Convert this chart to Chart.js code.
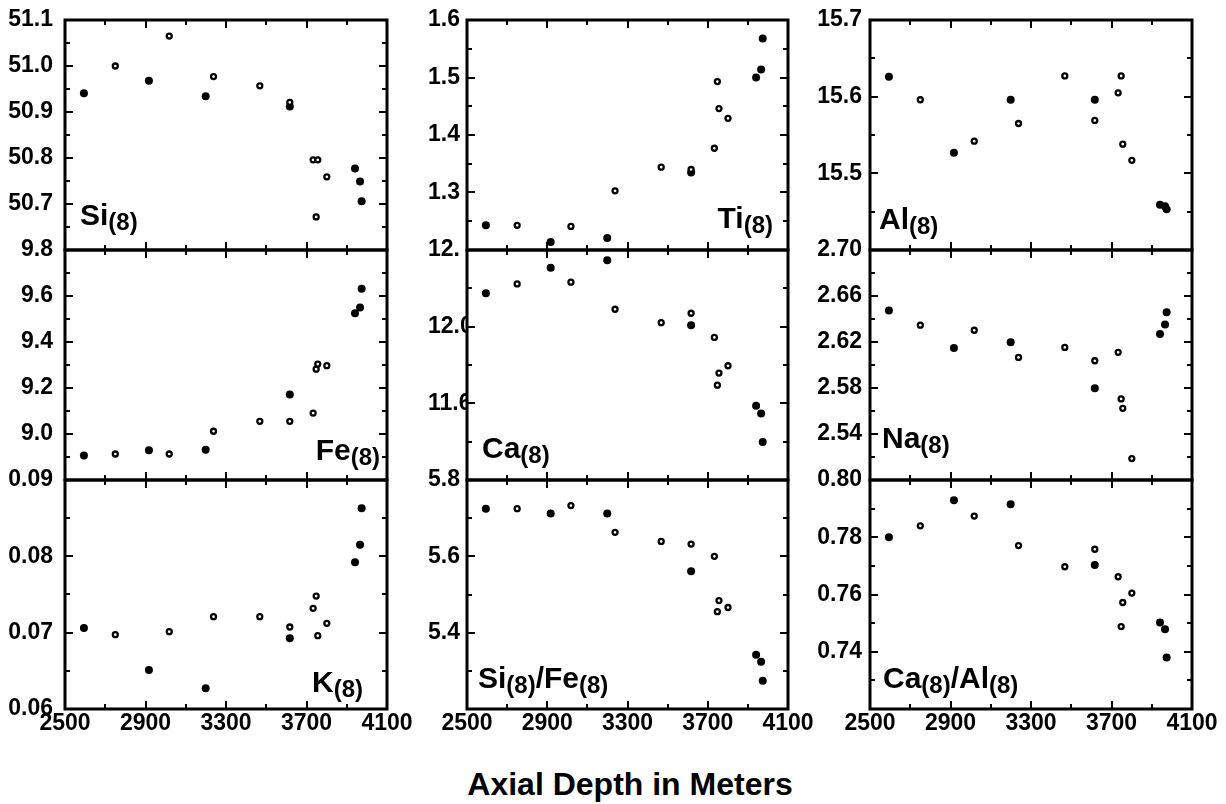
<!DOCTYPE html>
<html><head><meta charset="utf-8">
<script src="https://cdn.jsdelivr.net/npm/chart.js@4.4.1/dist/chart.umd.min.js"></script>
<style>
html,body{margin:0;padding:0;background:#fff;}
body{width:1226px;height:804px;position:relative;overflow:hidden;}
canvas.panel{position:absolute;}
#xtitle{position:absolute;left:0;width:1260px;text-align:center;top:768px;font:bold 32px 'Liberation Sans',Arial,sans-serif;line-height:32px;color:#000;}
</style></head><body>
<div id="xtitle">Axial Depth in Meters</div>
<script>
// ---- data ----
const depthFilled = [2594, 2917, 3199, 3617, 3941, 3966, 3974];
const depthOpen   = [2750, 3018, 3238, 3468, 3617, 3733, 3748, 3756, 3801];
const xTicks      = [2500, 2900, 3300, 3700, 4100];
const xTickLabels = ['2500', '2900', '3300', '3700', '4100'];

const siFilled = [50.941, 50.968, 50.934, 50.912, 50.777, 50.749, 50.706];
const siOpen   = [51.000, 51.065, 50.977, 50.957, 50.921, 50.796, 50.672, 50.796, 50.759];
const siTicks  = [50.6, 50.7, 50.8, 50.9, 51.0, 51.1];
const siLabels = ['', '50.7', '50.8', '50.9', '51.0', '51.1'];

const tiFilled = [1.243, 1.214, 1.221, 1.335, 1.500, 1.514, 1.568];
const tiOpen   = [1.243, 1.241, 1.303, 1.344, 1.340, 1.377, 1.493, 1.446, 1.429];
const tiTicks  = [1.2, 1.3, 1.4, 1.5, 1.6];
const tiLabels = ['', '1.3', '1.4', '1.5', '1.6'];

const alFilled = [15.626, 15.527, 15.596, 15.596, 15.459, 15.457, 15.453];
const alOpen   = [15.596, 15.542, 15.565, 15.627, 15.569, 15.605, 15.627, 15.538, 15.517];
const alTicks  = [15.4, 15.5, 15.6, 15.7];
const alLabels = ['', '15.5', '15.6', '15.7'];

const feFilled = [8.906, 8.929, 8.931, 9.172, 9.525, 9.550, 9.632];
const feOpen   = [8.913, 8.913, 9.012, 9.055, 9.055, 9.091, 9.282, 9.304, 9.297];
const feTicks  = [8.8, 9.0, 9.2, 9.4, 9.6, 9.8];
const feLabels = ['', '9.0', '9.2', '9.4', '9.6', '9.8'];

const caFilled = [12.174, 12.307, 12.346, 12.007, 11.588, 11.547, 11.398];
const caOpen   = [12.223, 12.232, 12.091, 12.021, 12.070, 11.944, 11.695, 11.758, 11.796];
const caTicks  = [11.2, 11.6, 12.0, 12.4];
const caLabels = ['', '11.6', '12.0', '12.'];

const naFilled = [2.6474, 2.6148, 2.6197, 2.5798, 2.6270, 2.6352, 2.6459];
const naOpen   = [2.6346, 2.6302, 2.6066, 2.6153, 2.6037, 2.6110, 2.5705, 2.5623, 2.5186];
const naTicks  = [2.50, 2.54, 2.58, 2.62, 2.66, 2.70];
const naLabels = ['', '2.54', '2.58', '2.62', '2.66', '2.70'];

const kFilled  = [0.07061, 0.06511, 0.06271, 0.06926, 0.07921, 0.08153, 0.08629];
const kOpen    = [0.06974, 0.07013, 0.07210, 0.07210, 0.07074, 0.07319, 0.07480, 0.06961, 0.07122];
const kTicks   = [0.06, 0.07, 0.08, 0.09];
const kLabels  = ['0.06', '0.07', '0.08', '0.09'];

const sifeFilled = [5.725, 5.712, 5.712, 5.561, 5.342, 5.324, 5.274];
const sifeOpen   = [5.725, 5.733, 5.663, 5.639, 5.632, 5.600, 5.455, 5.484, 5.466];
const sifeTicks  = [5.2, 5.4, 5.6, 5.8];
const sifeLabels = ['', '5.4', '5.6', '5.8'];

const caalFilled = [0.7800, 0.7929, 0.7915, 0.7703, 0.7502, 0.7479, 0.7380];
const caalOpen   = [0.7840, 0.7874, 0.7771, 0.7697, 0.7758, 0.7662, 0.7488, 0.7572, 0.7605];
const caalTicks  = [0.72, 0.74, 0.76, 0.78, 0.80];
const caalLabels = ['', '0.74', '0.76', '0.78', '0.80'];

// ---- panels ----
const panels = [
  {r:0,c:0, f:siFilled, o:siOpen, t:siTicks, l:siLabels, name:[['Si',0],['(8)',1]], anchor:'left', dx:15, dy:25},
  {r:0,c:1, f:tiFilled, o:tiOpen, t:tiTicks, l:tiLabels, name:[['Ti',0],['(8)',1]], anchor:'right', dx:15, dy:22},
  {r:0,c:2, f:alFilled, o:alOpen, t:alTicks, l:alLabels, name:[['Al',0],['(8)',1]], anchor:'left', dx:9, dy:21},
  {r:1,c:0, f:feFilled, o:feOpen, t:feTicks, l:feLabels, name:[['Fe',0],['(8)',1]], anchor:'right', dx:7, dy:20},
  {r:1,c:1, f:caFilled, o:caOpen, t:caTicks, l:caLabels, name:[['Ca',0],['(8)',1]], anchor:'left', dx:15, dy:22},
  {r:1,c:2, f:naFilled, o:naOpen, t:naTicks, l:naLabels, name:[['Na',0],['(8)',1]], anchor:'left', dx:12, dy:32},
  {r:2,c:0, f:kFilled, o:kOpen, t:kTicks, l:kLabels, name:[['K',0],['(8)',1]], anchor:'right', dx:24, dy:17},
  {r:2,c:1, f:sifeFilled, o:sifeOpen, t:sifeTicks, l:sifeLabels, name:[['Si',0],['(8)',1],['/',0],['Fe',0],['(8)',1]], anchor:'left', dx:11, dy:21},
  {r:2,c:2, f:caalFilled, o:caalOpen, t:caalTicks, l:caalLabels, name:[['Ca',0],['(8)',1],['/',0],['Al',0],['(8)',1]], anchor:'left', dx:13, dy:21}
];

const colLeft = [65, 467, 870], colRight = [387, 788, 1192];
const rowTop = [20, 250, 480], rowBottom = [250, 480, 709];
const FONT = "'Liberation Sans', Arial, Helvetica, sans-serif";
Chart.defaults.font.family = FONT;
Chart.defaults.font.weight = 'bold';
Chart.defaults.color = '#000';

const framePlugin = {
  id: 'frame',
  afterDraw(chart, args, opts) {
    const {ctx, chartArea: a} = chart;
    const x = chart.scales.x, y = chart.scales.y;
    const yt = opts.yTicks;
    ctx.save();
    ctx.strokeStyle = '#000';
    ctx.lineWidth = 2;
    const line = (x1, y1, x2, y2) => { ctx.beginPath(); ctx.moveTo(x1, y1); ctx.lineTo(x2, y2); ctx.stroke(); };
    const xt = (v, len) => { const p = Math.round(x.getPixelForValue(v)); line(p, a.top, p, a.top + len); line(p, a.bottom, p, a.bottom - len); };
    const ytk = (v, len) => { const p = Math.round(y.getPixelForValue(v)); line(a.left, p, a.left + len, p); line(a.right, p, a.right - len, p); };
    xTicks.forEach((v, i) => { xt(v, 8); if (i < xTicks.length - 1) xt((v + xTicks[i + 1]) / 2, 5); });
    yt.forEach((v, i) => { ytk(v, 8); if (i < yt.length - 1) ytk((v + yt[i + 1]) / 2, 5); });
    ctx.lineWidth = 3;
    ctx.strokeRect(a.left, a.top, a.right - a.left, a.bottom - a.top);
    ctx.restore();
  }
};

const namePlugin = {
  id: 'pname',
  afterDraw(chart, args, opts) {
    const {ctx, chartArea: a} = chart;
    const fonts = ['bold 30px ' + FONT, 'bold 24px ' + FONT];
    const shifts = [0, 5];
    ctx.save();
    ctx.fillStyle = '#000';
    ctx.textBaseline = 'alphabetic';
    ctx.textAlign = 'left';
    let total = 0;
    opts.name.forEach(([s, k]) => { ctx.font = fonts[k]; total += ctx.measureText(s).width; });
    let xx = opts.anchor === 'left' ? a.left + opts.dx : a.right - opts.dx - total;
    const base = a.bottom - opts.dy;
    opts.name.forEach(([s, k]) => { ctx.font = fonts[k]; ctx.fillText(s, xx, base + shifts[k]); xx += ctx.measureText(s).width; });
    ctx.restore();
  }
};

const PT = 30; // canvas margin above/below plot area
panels.forEach(p => {
  const L = colLeft[p.c], R = colRight[p.c], T = rowTop[p.r], B = rowBottom[p.r];
  const bottomRow = p.r === 2;
  const padL = p.c === 1 ? 26 : 0;
  const yW = 65 - padL;
  const cv = document.createElement('canvas');
  cv.className = 'panel';
  const W = (R - L) + 65 + 30, H = (B - T) + PT + (bottomRow ? 40 : PT);
  cv.width = W; cv.height = H;
  cv.style.left = (L - 65) + 'px'; cv.style.top = (T - PT) + 'px';
  cv.style.width = W + 'px'; cv.style.height = H + 'px';
  document.body.appendChild(cv);
  new Chart(cv, {
    type: 'scatter',
    data: {
      datasets: [
        { data: depthOpen.map((d, i) => ({x: d, y: p.o[i]})), pointRadius: 2.5, pointHoverRadius: 2.5, borderWidth: 2.3, pointBorderWidth: 2.3, backgroundColor: '#fff', borderColor: '#000', pointStyle: 'circle' },
        { data: depthFilled.map((d, i) => ({x: d, y: p.f[i]})), pointRadius: 4, pointHoverRadius: 4, borderWidth: 0, pointBorderWidth: 0, backgroundColor: '#000', borderColor: '#000', pointStyle: 'circle' }
      ]
    },
    options: {
      responsive: false, animation: false, devicePixelRatio: 1,
      layout: { padding: { left: padL, top: PT, right: 30, bottom: bottomRow ? 5 : PT } },
      plugins: {
        legend: { display: false }, tooltip: { enabled: false },
        frame: { yTicks: p.t },
        pname: { name: p.name, anchor: p.anchor, dx: p.dx, dy: p.dy }
      },
      scales: {
        x: {
          type: 'linear', min: xTicks[0], max: xTicks[xTicks.length - 1],
          display: bottomRow,
          grid: { display: false, drawTicks: false }, border: { display: false },
          afterBuildTicks: s => { s.ticks = xTicks.map(v => ({value: v})); },
          afterFit: s => { s.height = bottomRow ? 35 : 0; },
          ticks: { font: { size: 23, weight: 'bold' }, padding: 1, maxRotation: 0, autoSkip: false,
                   callback: (v, i) => xTickLabels[i] }
        },
        y: {
          type: 'linear', min: p.t[0], max: p.t[p.t.length - 1],
          grid: { display: false, drawTicks: false }, border: { display: false },
          afterBuildTicks: s => { s.ticks = p.t.map(v => ({value: v})); },
          afterFit: s => { s.width = yW; },
          ticks: { font: { size: 23, weight: 'bold' }, padding: p.c === 0 ? 12 : 8, autoSkip: false,
                   crossAlign: p.c === 1 ? 'far' : 'near',
                   callback: (v, i) => p.l[i] }
        }
      }
    },
    plugins: [framePlugin, namePlugin]
  });
});
</script>
</body></html>
